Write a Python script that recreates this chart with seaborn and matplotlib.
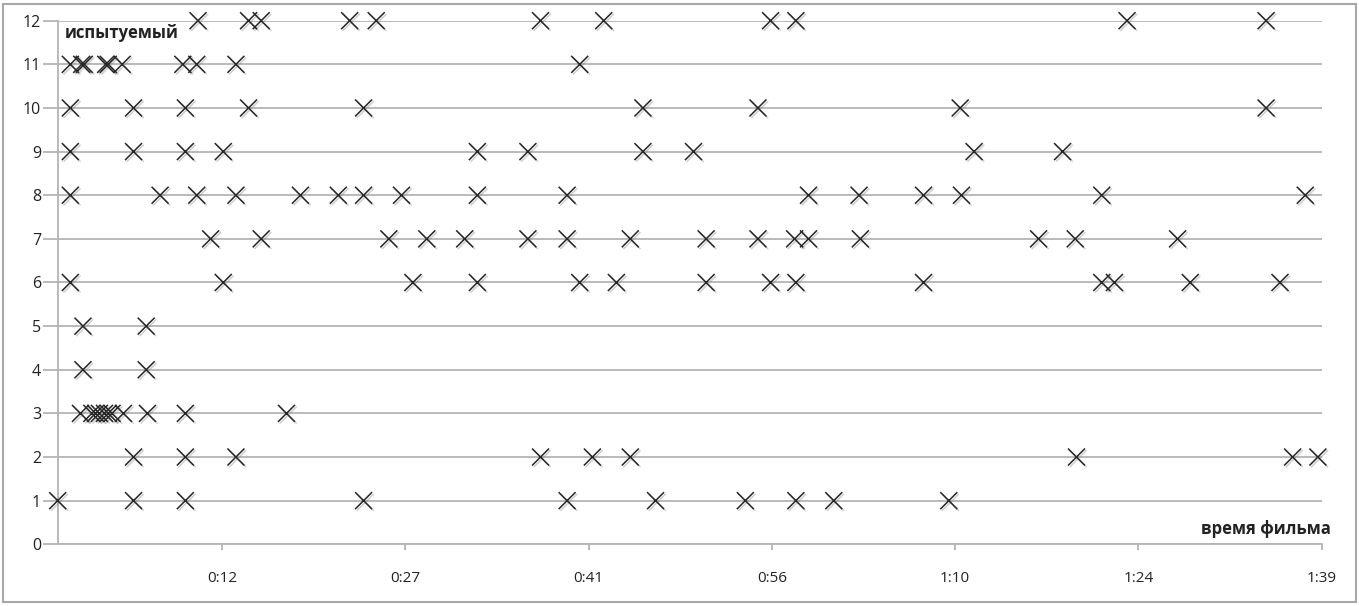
import matplotlib.pyplot as plt
import matplotlib.patheffects as pe
from matplotlib.patches import Rectangle
import seaborn as sns
import pandas as pd

# Moments (seconds of film) marked by each subject
subj_1 = [0.0, 6.0, 10.1, 24.2, 40.3, 47.3, 54.4, 58.4, 61.4, 70.5]
subj_2 = [6.0, 10.1, 14.1, 38.2, 42.3, 45.3, 80.6, 97.7, 99.7]
subj_3 = [1.8, 2.7, 3.0, 3.3, 3.7, 4.0, 4.3, 5.2, 7.1, 10.1, 18.1]
subj_4 = [2.0, 7.0]
subj_5 = [2.0, 7.0]
subj_6 = [1.0, 13.1, 28.1, 33.2, 41.3, 44.2, 51.3, 56.4, 58.4, 68.5, 82.6, 83.6, 89.6, 96.7]
subj_7 = [12.1, 16.1, 26.2, 29.2, 32.2, 37.2, 40.3, 45.3, 51.3, 55.4, 58.3, 59.4, 63.5,
          77.6, 80.5, 88.6]
subj_8 = [1.0, 8.1, 11.0, 14.1, 19.2, 22.2, 24.2, 27.2, 33.2, 40.3, 59.4, 63.4, 68.5,
          71.5, 82.6, 98.7]
subj_9 = [1.0, 6.0, 10.1, 13.1, 33.2, 37.2, 46.3, 50.3, 72.5, 79.5]
subj_10 = [1.0, 6.0, 10.1, 15.1, 24.2, 46.3, 55.4, 71.4, 95.6]
subj_11 = [1.0, 1.9, 2.1, 3.8, 4.0, 5.1, 9.9, 11.0, 14.1, 41.3]
subj_12 = [11.1, 15.1, 16.1, 23.1, 25.2, 38.2, 43.2, 56.4, 58.4, 84.6, 95.6]

subjects = [subj_1, subj_2, subj_3, subj_4, subj_5, subj_6,
            subj_7, subj_8, subj_9, subj_10, subj_11, subj_12]

tick_pos = [13, 27.5, 42, 56.5, 71, 85.5, 100]
tick_labels = ['0:12', '0:27', '0:41', '0:56', '1:10', '1:24', '1:39']
y_ticks = list(range(0, 13))

GRID = '#b4b4b4'

sns.set_theme(style="white")
plt.rcParams['font.family'] = ['Open Sans', 'DejaVu Sans']


def plot_marks():
    rows = []
    for i, times in enumerate(subjects, start=1):
        for t in times:
            rows.append({'t': t, 'subj': i})
    df = pd.DataFrame(rows)

    fig = plt.figure(figsize=(13.59, 6.06), dpi=100)
    ax = fig.add_axes([57.7 / 1359, 1 - 544.3 / 606, 1264 / 1359, 523.6 / 606])

    for y in y_ticks:
        ax.axhline(y, color=GRID, lw=1.3, zorder=0)

    sns.scatterplot(data=df, x='t', y='subj', marker='x', s=150, color='#262626',
                    linewidth=1.1, clip_on=False, zorder=3, ax=ax, legend=False,
                    path_effects=[pe.SimpleLineShadow(offset=(1.2, -1.2), shadow_color='#777777', alpha=0.35),
                                  pe.Normal()])

    ax.set_xlim(0, 100)
    ax.set_ylim(0, 12)
    ax.set_xticks(tick_pos)
    ax.set_xticklabels(tick_labels)
    ax.set_yticks(y_ticks)
    ax.set_xlabel('')
    ax.set_ylabel('')

    for side in ['top', 'right']:
        ax.spines[side].set_visible(False)
    for side in ['left', 'bottom']:
        ax.spines[side].set_color(GRID)
        ax.spines[side].set_linewidth(1.3)

    ax.tick_params(axis='y', direction='out', length=11, width=1.3, color=GRID,
                   pad=1, labelsize=11.5, labelcolor='#222222', left=True)
    ax.tick_params(axis='x', direction='out', length=4, width=1.3, color=GRID,
                   pad=15, labelsize=11, labelcolor='#222222', bottom=True)

    fig.text(65 / 1359, 1 - 33 / 606, 'испытуемый', fontsize=12, fontweight='bold',
             color='#222222', ha='left', va='center')
    fig.text(1331 / 1359, 1 - 529 / 606, 'время фильма', fontsize=12, fontweight='bold',
             color='#222222', ha='right', va='center')

    fig.patches.append(Rectangle((2.5 / 1359, 4 / 606), 1353 / 1359, 598 / 606,
                                 transform=fig.transFigure, fill=False,
                                 edgecolor='#a8a8a8', lw=1.5))

    fig.savefig('out.png', dpi=100)
    plt.close(fig)


if __name__ == "__main__":
    plot_marks()
